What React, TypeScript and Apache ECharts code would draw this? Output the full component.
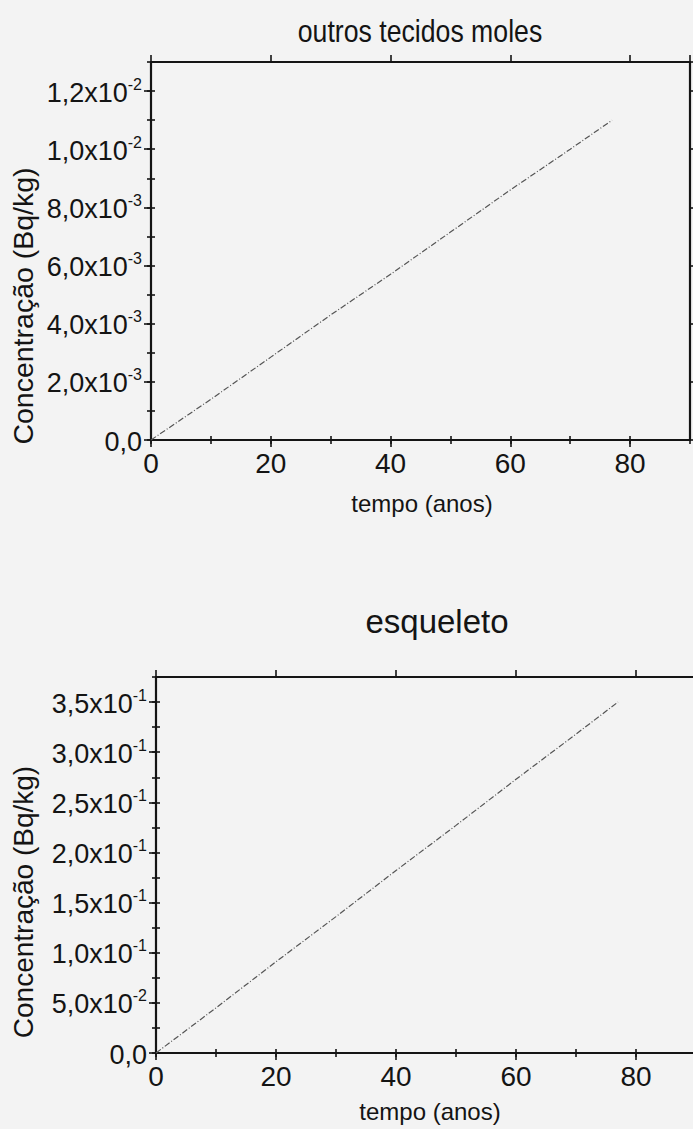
import React, { useEffect, useRef } from "react";
import * as echarts from "echarts";

// ---- data ----
const xTickLabels = ["0", "20", "40", "60", "80"];

const topTitle = "outros tecidos moles";
const topYears = [0, 10, 20, 30, 40, 50, 60, 70, 77];
const topValues = [0, 0.0014, 0.00285, 0.0043, 0.0057, 0.00715, 0.0086, 0.01, 0.011];
const topYTickLabels: [string, string][] = [
  ["0,0", ""],
  ["2,0x10", "-3"],
  ["4,0x10", "-3"],
  ["6,0x10", "-3"],
  ["8,0x10", "-3"],
  ["1,0x10", "-2"],
  ["1,2x10", "-2"],
];

const bottomTitle = "esqueleto";
const bottomYears = [0, 10, 20, 30, 40, 50, 60, 70, 77];
const bottomValues = [0, 0.045, 0.091, 0.136, 0.182, 0.227, 0.273, 0.318, 0.35];
const bottomYTickLabels: [string, string][] = [
  ["0,0", ""],
  ["5,0x10", "-2"],
  ["1,0x10", "-1"],
  ["1,5x10", "-1"],
  ["2,0x10", "-1"],
  ["2,5x10", "-1"],
  ["3,0x10", "-1"],
  ["3,5x10", "-1"],
];

const xAxisName = "tempo (anos)";
const yAxisName = "Concentração (Bq/kg)";

const FONT = "'Liberation Sans', Arial, sans-serif";
const INK = "#141414";

type Panel = {
  grid: { left: number; top: number; width: number; height: number };
  yMax: number;
  yMajor: number;
  yMinor: number;
  yLabels: [string, string][];
  years: number[];
  values: number[];
};

const panels: Panel[] = [
  {
    grid: { left: 151, top: 62, width: 539, height: 378 },
    yMax: 0.013,
    yMajor: 0.002,
    yMinor: 0.001,
    yLabels: topYTickLabels,
    years: topYears,
    values: topValues,
  },
  {
    grid: { left: 156, top: 677, width: 540, height: 376 },
    yMax: 0.375,
    yMajor: 0.05,
    yMinor: 0.025,
    yLabels: bottomYTickLabels,
    years: bottomYears,
    values: bottomValues,
  },
];

function buildOption() {
  const grids: any[] = [];
  const xAxes: any[] = [];
  const yAxes: any[] = [];
  const series: any[] = [];
  const lineStyle = { color: INK, width: 2.2 };
  const tickStyle = { color: INK, width: 1.6 };

  panels.forEach((p, gi) => {
    grids.push({ ...p.grid, containLabel: false });
    const mainX = xAxes.length;
    const xBase = {
      gridIndex: gi,
      type: "value",
      min: 0,
      max: 90,
      splitLine: { show: false },
      axisLine: { show: true, onZero: false, lineStyle },
    };
    xAxes.push({
      ...xBase,
      position: "bottom",
      interval: 20,
      axisTick: { show: true, length: 7, lineStyle: tickStyle },
      axisLabel: {
        show: true,
        showMaxLabel: false,
        margin: 9,
        fontSize: 28,
        fontFamily: FONT,
        color: INK,
        formatter: (v: number) => xTickLabels[Math.round(v / 20)] ?? "",
      },
    });
    xAxes.push({
      ...xBase,
      position: "bottom",
      interval: 10,
      axisLine: { show: false },
      axisTick: { show: true, length: 4, lineStyle: tickStyle },
      axisLabel: { show: false },
    });
    xAxes.push({
      ...xBase,
      position: "top",
      interval: 20,
      axisTick: { show: true, length: 7, lineStyle: tickStyle },
      axisLabel: { show: false },
    });
    xAxes.push({
      ...xBase,
      position: "top",
      interval: 10,
      axisLine: { show: false },
      axisTick: { show: true, length: 4, lineStyle: tickStyle },
      axisLabel: { show: false },
    });

    const mainY = yAxes.length;
    const yBase = {
      gridIndex: gi,
      type: "value",
      min: 0,
      max: p.yMax,
      splitLine: { show: false },
      axisLine: { show: true, onZero: false, lineStyle },
    };
    yAxes.push({
      ...yBase,
      position: "left",
      interval: p.yMajor,
      axisTick: { show: true, length: 7, lineStyle: tickStyle },
      axisLabel: {
        show: true,
        showMaxLabel: false,
        margin: 9,
        formatter: (v: number) => {
          const lab = p.yLabels[Math.round(v / p.yMajor)];
          if (!lab) return "";
          return lab[1] ? `{m|${lab[0]}}{e|${lab[1]}}` : `{m|${lab[0]}}`;
        },
        rich: {
          m: { fontSize: 27, fontFamily: FONT, color: INK, lineHeight: 30, verticalAlign: "bottom" },
          e: { fontSize: 16, fontFamily: FONT, color: INK, lineHeight: 16, verticalAlign: "top" },
        },
      },
    });
    yAxes.push({
      ...yBase,
      position: "left",
      interval: p.yMinor,
      axisLine: { show: false },
      axisTick: { show: true, length: 4, lineStyle: tickStyle },
      axisLabel: { show: false },
    });
    yAxes.push({
      ...yBase,
      position: "right",
      interval: p.yMajor,
      axisTick: { show: true, length: 7, lineStyle: tickStyle },
      axisLabel: { show: false },
    });
    yAxes.push({
      ...yBase,
      position: "right",
      interval: p.yMinor,
      axisLine: { show: false },
      axisTick: { show: true, length: 4, lineStyle: tickStyle },
      axisLabel: { show: false },
    });

    series.push({
      type: "line",
      xAxisIndex: mainX,
      yAxisIndex: mainY,
      data: p.years.map((y, i) => [y, p.values[i]]),
      showSymbol: false,
      symbol: "none",
      lineStyle: { color: "#555", width: 1.2, type: [6, 2, 1, 2] },
    });
  });

  const textStyle = (size: number) => ({
    fontSize: size,
    fontFamily: FONT,
    fill: INK,
    textAlign: "center",
    textVerticalAlign: "middle",
  });

  const graphic: any[] = [
    { type: "text", x: 420, y: 31, scaleX: 0.86, style: { text: topTitle, ...textStyle(31) } },
    { type: "text", x: 437, y: 621, style: { text: bottomTitle, ...textStyle(33) } },
    { type: "text", x: 422, y: 503, style: { text: xAxisName, ...textStyle(24) } },
    { type: "text", x: 430, y: 1111, style: { text: xAxisName, ...textStyle(24) } },
    { type: "text", x: 23, y: 306, rotation: Math.PI / 2, style: { text: yAxisName, ...textStyle(28.5) } },
    { type: "text", x: 23, y: 902, rotation: Math.PI / 2, style: { text: yAxisName, ...textStyle(28) } },
  ];

  return {
    animation: false,
    backgroundColor: "#f3f3f3",
    grid: grids,
    xAxis: xAxes,
    yAxis: yAxes,
    series,
    graphic,
  };
}

export default function App() {
  const ref = useRef<HTMLDivElement>(null);
  useEffect(() => {
    if (!ref.current) return;
    const chart = echarts.init(ref.current, undefined, { renderer: "svg" });
    chart.setOption(buildOption() as any);
    return () => chart.dispose();
  }, []);
  return (
    <div
      style={{
        position: "fixed",
        left: 0,
        top: 0,
        width: 693,
        height: 1129,
        overflow: "hidden",
        background: "#f3f3f3",
      }}
    >
      <div ref={ref} style={{ width: 700, height: 1129 }} />
    </div>
  );
}
